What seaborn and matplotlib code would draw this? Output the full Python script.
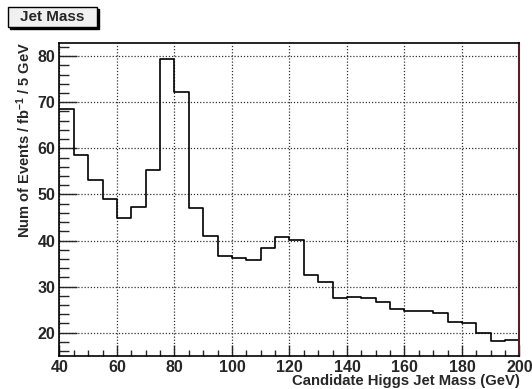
import numpy as np
import pandas as pd
import matplotlib
matplotlib.use("Agg")
import matplotlib.pyplot as plt
from matplotlib.ticker import MultipleLocator
import seaborn as sns

# Candidate Higgs jet mass spectrum, 5 GeV bins from 40 to 200 GeV
bin_edges = list(range(40, 205, 5))
events_per_bin = [
    68.6, 58.6, 53.2, 49.0, 44.8, 47.2, 55.3, 79.5,
    72.2, 47.1, 40.9, 36.6, 36.1, 35.7, 38.3, 40.8,
    40.2, 32.5, 31.0, 27.6, 27.8, 27.6, 26.6, 25.1,
    24.8, 24.7, 24.3, 22.4, 22.0, 20.0, 18.1, 18.3,
]
x_ticks = [40, 60, 80, 100, 120, 140, 160, 180, 200]
y_ticks = [20, 30, 40, 50, 60, 70, 80]

bin_centers = [e + 2.5 for e in bin_edges[:-1]]
df = pd.DataFrame({"mass": bin_centers, "events": events_per_bin})

sns.set_style("ticks")
plt.rcParams["font.family"] = ["Liberation Sans", "DejaVu Sans"]
plt.rcParams["font.weight"] = "bold"
plt.rcParams["mathtext.fontset"] = "custom"
plt.rcParams["mathtext.rm"] = "Liberation Sans:bold"
plt.rcParams["mathtext.bf"] = "Liberation Sans:bold"
plt.rcParams["mathtext.it"] = "Liberation Sans:bold"
plt.rcParams["mathtext.default"] = "bf"

fig = plt.figure(figsize=(5.32, 3.89), dpi=100)
ax = fig.add_axes([0.1118, 0.0856, 0.8647, 0.8031])

sns.histplot(data=df, x="mass", weights="events", bins=bin_edges,
             element="step", fill=False, color="black", linewidth=1.2, ax=ax)

ax.set_xlim(40, 200)
ax.set_ylim(15, 82.8)
ax.set_xticks(x_ticks)
ax.set_yticks(y_ticks)
ax.xaxis.set_minor_locator(MultipleLocator(5))
ax.yaxis.set_minor_locator(MultipleLocator(2))
ax.tick_params(axis="both", which="major", direction="in", labelsize=11.5,
               width=1.0, pad=3)
ax.tick_params(axis="x", which="major", length=8)
ax.tick_params(axis="y", which="major", length=13)
ax.tick_params(axis="x", which="minor", direction="in", length=4, width=1.0)
ax.tick_params(axis="y", which="minor", direction="in", length=7, width=1.0)
for lab in ax.get_xticklabels() + ax.get_yticklabels():
    lab.set_fontweight("bold")

ax.grid(True, which="major", linestyle=(0, (1, 1.5)), color="#333333",
        linewidth=0.9)
ax.set_axisbelow(True)
for side in ["left", "top", "bottom"]:
    ax.spines[side].set_color("black")
    ax.spines[side].set_linewidth(1.2)
ax.spines["right"].set_color("#5a1e1e")
ax.spines["right"].set_linewidth(1.5)

ax.set_xlabel("")
ax.set_ylabel("")
fig.text(0.977, 1 - 381 / 389, "Candidate Higgs Jet Mass (GeV)",
         ha="right", va="center", fontsize=10.7, fontweight="bold")
fig.text(24 / 532, 0.892, r"Num of Events / fb$^{-1}$ / 5 GeV",
         ha="center", va="top", rotation=90, fontsize=10.5, fontweight="bold")

# Title box with drop shadow
x0, y0, w, h = 8 / 532, 1 - 27 / 389, 89 / 532, 20 / 389
shadow = plt.Rectangle((x0 + 2 / 532, y0 - 2 / 389), w, h, transform=fig.transFigure,
                       facecolor="black", edgecolor="black", zorder=1)
box = plt.Rectangle((x0, y0), w, h, transform=fig.transFigure,
                    facecolor="#f0f0f0", edgecolor="black", linewidth=1.0, zorder=2)
fig.patches.extend([shadow, box])
fig.text(x0 + w / 2, y0 + h / 2, "Jet Mass", ha="center", va="center",
         fontsize=11, fontweight="bold", zorder=3)

fig.savefig("out.png", dpi=100, facecolor="white")
